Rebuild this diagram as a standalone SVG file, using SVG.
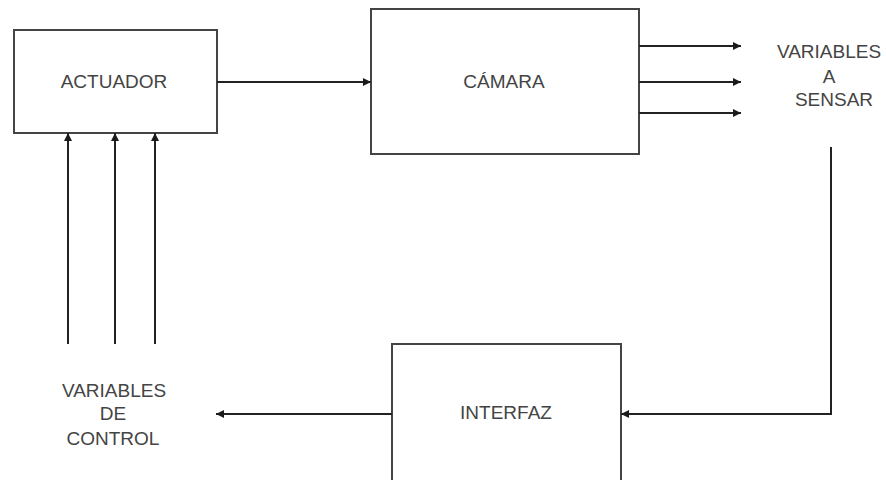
<svg xmlns="http://www.w3.org/2000/svg" width="886" height="480" viewBox="0 0 886 480">
<defs>
<marker id="ah" viewBox="0 0 10 10" refX="10" refY="5" markerWidth="8" markerHeight="8" markerUnits="userSpaceOnUse" orient="auto">
<path d="M0,0 L10,5 L0,10 z" fill="#1a1a1a"/>
</marker>
</defs>
<style>
.box{fill:#fff;stroke:#444;stroke-width:2}
.lbl{font-family:"Liberation Sans",Arial,sans-serif;font-size:19px;fill:#444;text-anchor:middle}
.c{fill:none;stroke:#222;stroke-width:2}
</style>
<rect width="886" height="480" fill="#fff"/>
<g id="actuador">
<rect class="box" x="14" y="30" width="203" height="103"/>
<text class="lbl" x="114" y="88">ACTUADOR</text>
</g>
<g id="camara">
<rect class="box" x="371" y="9" width="268" height="145"/>
<text class="lbl" x="504" y="88">CÁMARA</text>
</g>
<g id="interfaz">
<rect class="box" x="392" y="344" width="229" height="150"/>
<text class="lbl" x="506" y="419">INTERFAZ</text>
</g>
<g id="variables-sensar">
<text class="lbl" x="829" y="58">VARIABLES</text>
<text class="lbl" x="829" y="83">A</text>
<text class="lbl" x="834" y="106">SENSAR</text>
</g>
<g id="variables-control">
<text class="lbl" x="114" y="397">VARIABLES</text>
<text class="lbl" x="113" y="420">DE</text>
<text class="lbl" x="113" y="445">CONTROL</text>
</g>
<g id="connectors">
<line class="c" x1="217" y1="82" x2="371" y2="82" marker-end="url(#ah)"/>
<line class="c" x1="639" y1="46" x2="741" y2="46" marker-end="url(#ah)"/>
<line class="c" x1="639" y1="82" x2="741" y2="82" marker-end="url(#ah)"/>
<line class="c" x1="639" y1="113" x2="741" y2="113" marker-end="url(#ah)"/>
<polyline class="c" points="831,147 831,414 621,414" marker-end="url(#ah)"/>
<line class="c" x1="392" y1="414" x2="216" y2="414" marker-end="url(#ah)"/>
<line class="c" x1="68" y1="344" x2="68" y2="133" marker-end="url(#ah)"/>
<line class="c" x1="115" y1="344" x2="115" y2="133" marker-end="url(#ah)"/>
<line class="c" x1="155" y1="344" x2="155" y2="133" marker-end="url(#ah)"/>
</g>
</svg>
